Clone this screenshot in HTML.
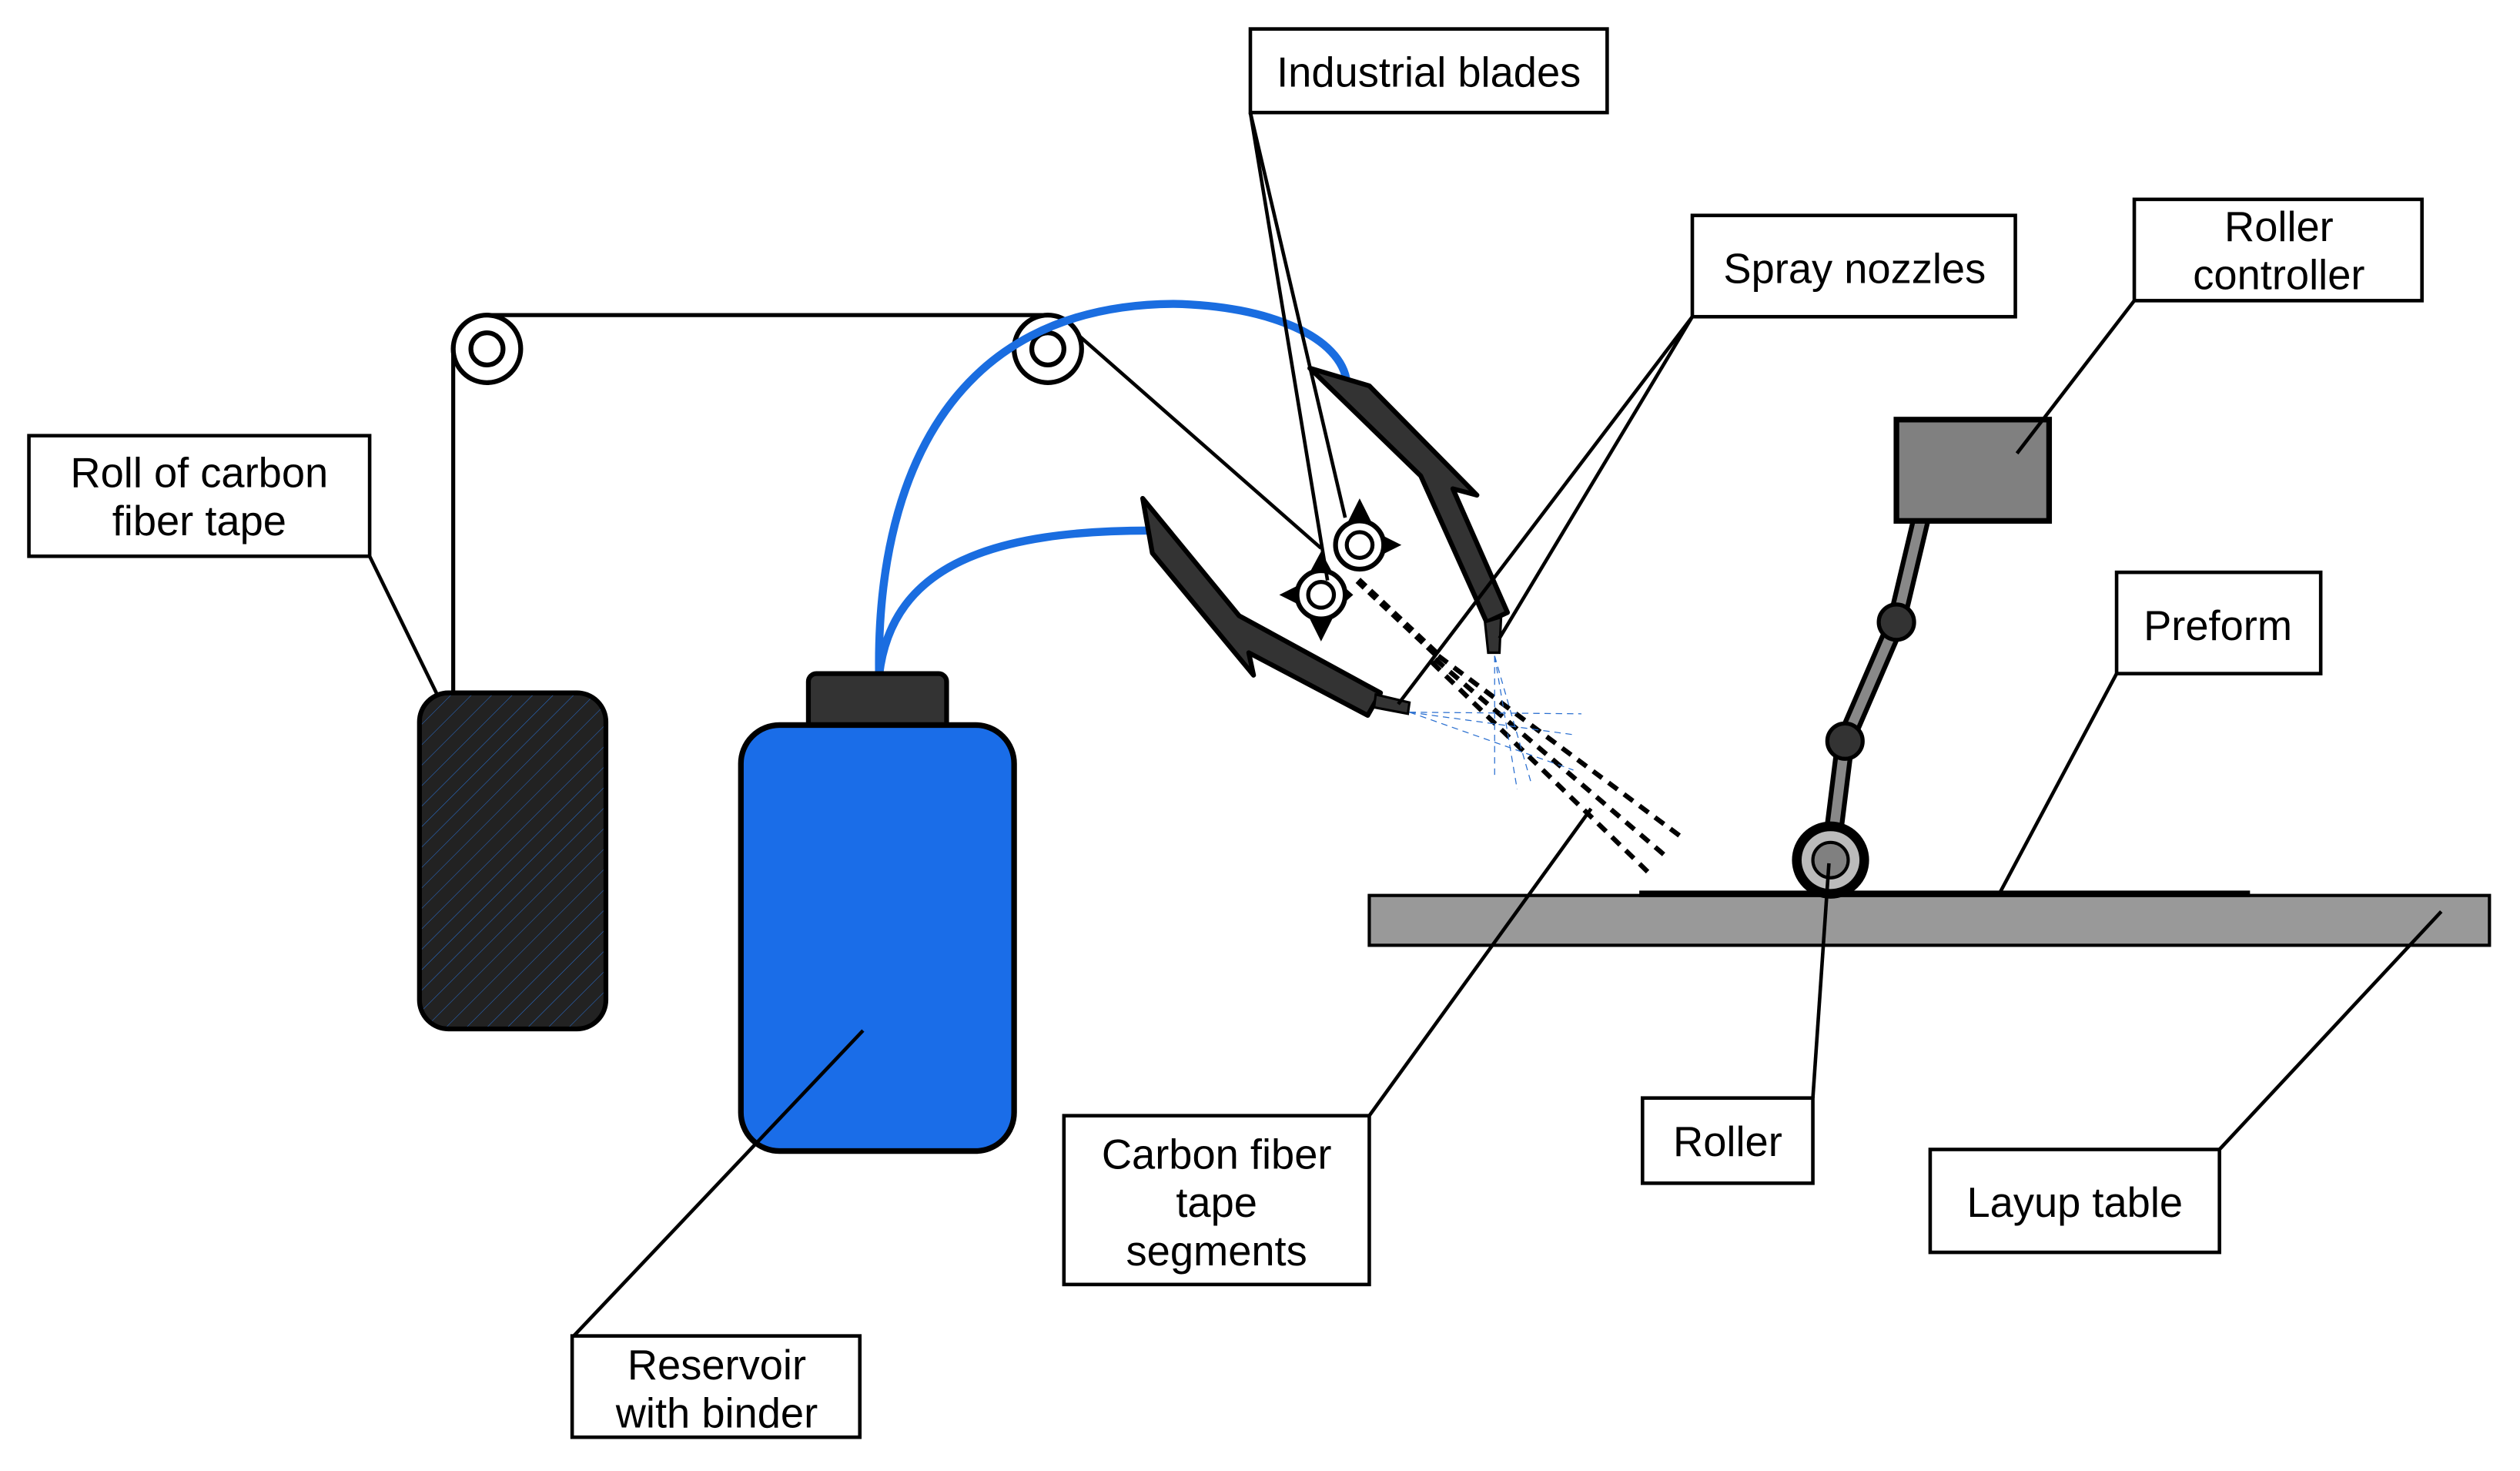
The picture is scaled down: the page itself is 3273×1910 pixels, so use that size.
<!DOCTYPE html>
<html><head><meta charset="utf-8"><style>
html,body{margin:0;padding:0;background:#fff;}
svg{display:block;}
text{font-family:"Liberation Sans",sans-serif;font-size:26px;fill:#000;}
</style></head><body>
<svg width="3273" height="1910" viewBox="0 0 1568 915" xmlns="http://www.w3.org/2000/svg">
<defs>
<pattern id="h" width="9" height="9" patternUnits="userSpaceOnUse" patternTransform="rotate(45)">
<rect width="9" height="9" fill="#222"/><line x1="0" y1="0" x2="0" y2="9" stroke="#2a6fd0" stroke-width="0.5"/>
</pattern>
</defs>
<rect width="1568" height="915" fill="#fff"/>

<!-- tape path -->
<path d="M282,432 L282,217 M303,196 L652,196" stroke="#000" stroke-width="2.5" fill="none"/>
<line x1="667" y1="205" x2="822" y2="341" stroke="#000" stroke-width="2.2"/>
<circle cx="303" cy="217" r="21" fill="#fff" stroke="#000" stroke-width="3"/>
<circle cx="303" cy="217" r="10" fill="#fff" stroke="#000" stroke-width="3"/>
<circle cx="652" cy="217" r="21" fill="#fff" stroke="#000" stroke-width="3"/>
<circle cx="652" cy="217" r="10" fill="#fff" stroke="#000" stroke-width="3"/>

<!-- roll -->
<rect x="261" y="431" width="116" height="209" rx="18" fill="url(#h)" stroke="#000" stroke-width="3"/>

<!-- hoses -->
<path d="M547,420 C545,300 590,190 730,189 C790,190 835,210 838,238" stroke="#1a6de0" stroke-width="5" fill="none"/>
<path d="M547,420 C555,350 620,330 716,330" stroke="#1a6de0" stroke-width="5" fill="none"/>

<!-- reservoir -->
<rect x="503" y="419" width="86" height="36" rx="5" fill="#333" stroke="#000" stroke-width="3"/>
<rect x="461" y="451" width="170" height="265" rx="24" fill="#1a6de8" stroke="#000" stroke-width="3.5"/>

<!-- blades -->
<polygon points="815,229 852,240 919,308 904,304 938,381 925,387 884,296" fill="#333" stroke="#000" stroke-width="3" stroke-linejoin="round"/>
<polygon points="924,387 934,384 933,406 926,406" fill="#333" stroke="#000" stroke-width="1.5"/>
<polygon points="711,310 771,383 859,431 851,445 777,406 780,420 717,344" fill="#333" stroke="#000" stroke-width="3" stroke-linejoin="round"/>
<polygon points="856,432 877,437 876,444 855,440" fill="#333" stroke="#000" stroke-width="1.5"/>

<!-- dashed tape segments -->
<line x1="845" y1="361" x2="895" y2="408" stroke="#000" stroke-width="4.5" stroke-dasharray="6,4"/>
<line x1="895" y1="408" x2="1048" y2="522" stroke="#000" stroke-width="3" stroke-dasharray="7,5"/>
<line x1="893" y1="410" x2="1037" y2="533" stroke="#000" stroke-width="3" stroke-dasharray="7,5"/>
<line x1="891" y1="412" x2="1026" y2="543" stroke="#000" stroke-width="3" stroke-dasharray="7,5"/>

<!-- spray -->
<g stroke="#2a6fd0" stroke-width="0.6" stroke-dasharray="4,3" fill="none">
<line x1="930" y1="408" x2="930" y2="483"/><line x1="930" y1="408" x2="944" y2="491"/><line x1="930" y1="408" x2="953" y2="488"/>
<line x1="877" y1="443" x2="984" y2="444"/><line x1="877" y1="443" x2="979" y2="457"/><line x1="877" y1="443" x2="979" y2="479"/>
</g>

<!-- cutter circles -->
<g fill="#000">
<polygon points="846,310 853,324 839,324"/><polygon points="872,339 858,332 858,346"/>
<polygon points="796,370 810,363 810,377"/><polygon points="822,399 815,385 829,385"/>
<polygon points="822,343 829,356 815,356"/><polygon points="842,370 834,363 834,377"/>
</g>
<circle cx="846" cy="339" r="15" fill="#fff" stroke="#000" stroke-width="3"/>
<circle cx="846" cy="339" r="8" fill="#fff" stroke="#000" stroke-width="2.5"/>
<circle cx="822" cy="370" r="15" fill="#fff" stroke="#000" stroke-width="3"/>
<circle cx="822" cy="370" r="8" fill="#fff" stroke="#000" stroke-width="2.5"/>

<!-- roller controller & arm -->
<path d="M1195,324 L1180,387 L1148,461 L1140,525" stroke="#000" stroke-width="12" fill="none" stroke-linejoin="round"/>
<path d="M1195,324 L1180,387 L1148,461 L1140,525" stroke="#888" stroke-width="6" fill="none" stroke-linejoin="round"/>
<rect x="1180" y="261" width="95" height="63" fill="#808080" stroke="#000" stroke-width="3.5"/>
<circle cx="1180" cy="387" r="11" fill="#333" stroke="#000" stroke-width="2.5"/>
<circle cx="1148" cy="461" r="11" fill="#333" stroke="#000" stroke-width="2.5"/>

<!-- table & preform -->
<rect x="852" y="557" width="697" height="31" fill="#999" stroke="#000" stroke-width="2"/>
<line x1="1020" y1="556" x2="1400" y2="556" stroke="#000" stroke-width="4"/>
<circle cx="1139" cy="535" r="24" fill="#000"/>
<circle cx="1139" cy="535" r="18" fill="#bbb"/>
<circle cx="1139" cy="535" r="11" fill="#808080" stroke="#000" stroke-width="2"/>

<!-- leaders -->
<g stroke="#000" stroke-width="2.2" fill="none">
<line x1="230" y1="346" x2="272" y2="432"/>
<line x1="537" y1="641" x2="357" y2="831"/>
<line x1="778" y1="70" x2="826" y2="361"/>
<line x1="778" y1="70" x2="837" y2="322"/>
<line x1="1053" y1="197" x2="870" y2="438"/>
<line x1="1053" y1="197" x2="933" y2="397"/>
<line x1="852" y1="694" x2="990" y2="503"/>
<line x1="1328" y1="187" x2="1255" y2="282"/>
<line x1="1317" y1="419" x2="1244" y2="556"/>
<line x1="1128" y1="683" x2="1138" y2="537"/>
<line x1="1381" y1="715" x2="1519" y2="567"/>
</g>

<!-- label boxes -->
<g fill="#fff" stroke="#000" stroke-width="2.2">
<rect x="18" y="271" width="212" height="75"/>
<rect x="356" y="831" width="179" height="63"/>
<rect x="778" y="18" width="222" height="52"/>
<rect x="1053" y="134" width="201" height="63"/>
<rect x="662" y="694" width="190" height="105"/>
<rect x="1328" y="124" width="179" height="63"/>
<rect x="1317" y="356" width="127" height="63"/>
<rect x="1022" y="683" width="106" height="53"/>
<rect x="1201" y="715" width="180" height="64"/>
</g>
<g text-anchor="middle">
<text x="124" y="303">Roll of carbon</text><text x="124" y="333">fiber tape</text>
<text x="446" y="858">Reservoir</text><text x="446" y="888">with binder</text>
<text x="889" y="54">Industrial blades</text>
<text x="1154" y="176">Spray nozzles</text>
<text x="757" y="727">Carbon fiber</text><text x="757" y="757">tape</text><text x="757" y="787">segments</text>
<text x="1418" y="150">Roller</text><text x="1418" y="180">controller</text>
<text x="1380" y="398">Preform</text>
<text x="1075" y="719">Roller</text>
<text x="1291" y="757">Layup table</text>
</g>
</svg>
</body></html>
